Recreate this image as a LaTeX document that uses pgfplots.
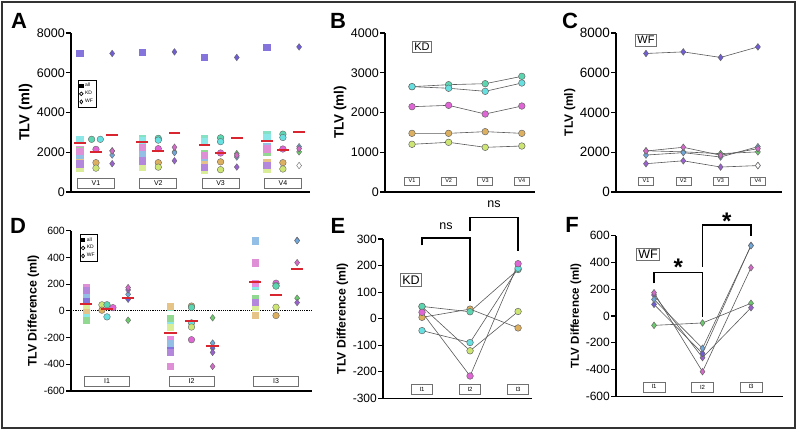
\documentclass[border=0pt]{standalone}
\usepackage{pgfplots}
\pgfplotsset{compat=1.18}
\usepackage{fontspec}
\setmainfont{Liberation Sans}

\definecolor{KDa}{HTML}{5CD6B0}
\definecolor{KDb}{HTML}{66E0E0}
\definecolor{KDc}{HTML}{E066D6}
\definecolor{KDd}{HTML}{DDB060}
\definecolor{KDe}{HTML}{CDE673}
\definecolor{WFa}{HTML}{6F5CD6}
\definecolor{WFb}{HTML}{6CCB6C}
\definecolor{WFc}{HTML}{6FA8DC}
\definecolor{WFd}{HTML}{D46AC8}
\definecolor{WFe}{HTML}{9A60D0}
\definecolor{meanred}{HTML}{D9252F}
\definecolor{boxgray}{HTML}{707070}

\pgfdeclareplotmark{meanbarA}{\pgfpathrectangle{\pgfpoint{-5.8pt}{-1pt}}{\pgfpoint{11.6pt}{2pt}}\pgfusepathqfill}
\pgfdeclareplotmark{meanbarD}{\pgfpathrectangle{\pgfpoint{-6.2pt}{-1pt}}{\pgfpoint{12.4pt}{2pt}}\pgfusepathqfill}

\pgfplotsset{
  panel/.style={
    scale only axis, anchor=south west,
    axis lines*=left,
    axis line style={line width=1.4pt, black},
    xtick=\empty,
    ytick style={line width=1.2pt, black},
    tick align=outside,
    major tick length=5pt,
    clip=false,
    /pgf/number format/1000 sep={},
    /pgf/number format/assume math mode=true,
    yticklabel style={inner sep=1pt},
  },
  allcls/.style={scatter, only marks, scatter src=explicit symbolic,
    mark size=3.1pt,
    scatter/classes={
      ka={mark=square*, color=KDa!75!white},
      kb={mark=square*, color=KDb!75!white},
      kc={mark=square*, color=KDc!75!white},
      kd={mark=square*, color=KDd!75!white},
      ke={mark=square*, color=KDe!75!white},
      wa={mark=square*, color=WFa!85!white},
      wb={mark=square*, color=WFb!75!white},
      wc={mark=square*, color=WFc!75!white},
      wd={mark=square*, color=WFd!75!white},
      we={mark=square*, color=WFe!75!white}}},
  ptcls/.style={scatter, only marks, scatter src=explicit symbolic,
    mark size=3.3pt,
    scatter/classes={
      ka={mark=*, fill=KDa, draw=black!60},
      kb={mark=*, fill=KDb, draw=black!60},
      kc={mark=*, fill=KDc, draw=black!60},
      kd={mark=*, fill=KDd, draw=black!60},
      ke={mark=*, fill=KDe, draw=black!60},
      wa={mark=diamond*, fill=WFa, draw=black!60},
      wb={mark=diamond*, fill=WFb, draw=black!60},
      wc={mark=diamond*, fill=WFc, draw=black!60},
      wd={mark=diamond*, fill=WFd, draw=black!60},
      we={mark=diamond*, fill=WFe, draw=black!60},
      wx={mark=diamond*, fill=white, draw=black!60}}},
  conn/.style={black!65, line width=0.6pt, mark size=3.3pt},
  cm/.style={mark options={fill=#1, draw=black!60, line width=0.5pt, solid}},
}
\tikzset{
  catbox/.style={draw=boxgray, fill=white, line width=0.6pt, inner sep=0pt, anchor=center},
  grpbox/.style={draw=boxgray, fill=white, line width=0.7pt, inner sep=2pt, anchor=center},
  letter/.style={font=\fontsize{22}{22}\selectfont\bfseries, inner sep=0pt, anchor=center},
}

\begin{document}
\begin{tikzpicture}
\useasboundingbox (0pt,0pt) rectangle (798pt,432pt);
\draw[line width=1.2pt, black!80] (2pt,4pt) rectangle (795pt,430pt);

\node[letter] at (19pt,411pt) {A};
\node[letter] at (338pt,411pt) {B};
\node[letter] at (570pt,411pt) {C};
\node[letter] at (18pt,206pt) {D};
\node[letter] at (338pt,206pt) {E};
\node[letter] at (572pt,207pt) {F};

% ---------------- Panel A ----------------
\begin{axis}[panel, at={(71pt,240pt)}, width=239pt, height=159pt,
  xmin=0.599, xmax=4.435, ymin=0, ymax=8000, ytick={0,2000,4000,6000,8000},
  yticklabel style={font=\fontsize{12.5}{12.5}\selectfont},
  ylabel={TLV (ml)}, ylabel style={font=\bfseries\fontsize{14.5}{14.5}\selectfont},
  legend style={at={(0.03,0.705)}, anchor=north west, font=\fontsize{5}{5}\selectfont,
    draw=black, line width=0.7pt, inner sep=1pt, row sep=-1pt, cells={anchor=west}},
  legend cell align=left]
\addlegendimage{only marks, mark=square*, black, mark size=1.6pt}
\addlegendentry{all}
\addlegendimage{only marks, mark=o, black, mark size=1.8pt}
\addlegendentry{KD}
\addlegendimage{only marks, mark=diamond, black, mark size=1.9pt}
\addlegendentry{WF}
\addplot[allcls] table[meta=c] {
x y c
0.74 2650 ka
0.74 2650 kb
0.74 2146 kc
0.74 1476 kd
0.74 1200 ke
0.74 6970 wa
0.74 2075 wb
0.74 1859 wc
0.74 2062 wd
0.74 1424 we
1.74 2700 ka
1.74 2610 kb
1.74 2180 kc
1.74 1476 kd
1.74 1250 ke
1.74 7050 wa
1.74 2020 wb
1.74 1980 wc
1.74 2250 wd
1.74 1570 we
2.74 2725 ka
2.74 2533 kb
2.74 1962 kc
2.74 1518 kd
2.74 1124 ke
2.74 6770 wa
2.74 1930 wb
2.74 1760 wc
2.74 1850 wd
2.74 1256 we
3.74 2910 ka
3.74 2742 kb
3.74 2163 kc
3.74 1476 kd
3.74 1157 ke
3.74 7300 wa
3.74 2020 wb
3.74 2280 wc
3.74 2180 wd
3.74 1330 we
};
\addplot[ptcls] table[meta=c] {
x y c
0.93 2650 ka
1.07 2650 kb
1 2146 kc
1 1476 kd
1 1200 ke
2 2700 ka
2 2610 kb
2 2180 kc
2 1476 kd
2 1250 ke
3 2725 ka
3 2533 kb
3 1962 kc
3 1518 kd
3 1124 ke
4 2910 ka
4 2742 kb
4 2163 kc
4 1476 kd
4 1157 ke
1.26 6970 wa
1.26 2075 wb
1.26 1859 wc
1.26 2062 wd
1.26 1424 we
2.26 7050 wa
2.26 2020 wb
2.26 1980 wc
2.26 2250 wd
2.26 1570 we
3.26 6770 wa
3.26 1930 wb
3.26 1760 wc
3.26 1850 wd
3.26 1256 we
4.26 7300 wa
4.26 2020 wb
4.26 2280 wc
4.26 2180 wd
4.26 1330 wx
};
% group means (all, KD, WF)
\addplot[only marks, mark=meanbarA, color=meanred, fill=meanred, mark options={fill=meanred, draw=none}] coordinates {
(0.74,2451) (1.74,2509) (2.74,2343) (3.74,2556)
(1,2024) (2,2043) (3,1972) (4,2090)
(1.26,2878) (2.26,2974) (3.26,2713) (4.26,3022)};
\foreach \g/\t in {1/V1,2/V2,3/V3,4/V4}{
  \edef\tmp{\noexpand\node[catbox, minimum width=37pt, minimum height=10pt, font=\noexpand\fontsize{7}{7}\noexpand\selectfont] at (axis cs:\g,452) {\t};}\tmp
}
\end{axis}

% ---------------- Panel B ----------------
\begin{axis}[panel, at={(385pt,240pt)}, width=150pt, height=159pt,
  xmin=0.262, xmax=4.36, ymin=0, ymax=4000, ytick={0,1000,2000,3000,4000},
  yticklabel style={font=\fontsize{12.5}{12.5}\selectfont},
  ylabel={TLV (ml)}, ylabel style={font=\bfseries\fontsize{13.5}{13.5}\selectfont}]
\addplot[conn, mark=*, cm=KDa] coordinates {(1,2650)(2,2700)(3,2725)(4,2910)};
\addplot[conn, mark=*, cm=KDb] coordinates {(1,2650)(2,2610)(3,2533)(4,2742)};
\addplot[conn, mark=*, cm=KDc] coordinates {(1,2146)(2,2180)(3,1962)(4,2163)};
\addplot[conn, mark=*, cm=KDd] coordinates {(1,1476)(2,1476)(3,1518)(4,1476)};
\addplot[conn, mark=*, cm=KDe] coordinates {(1,1200)(2,1250)(3,1124)(4,1157)};
\foreach \g/\t in {1/V1,2/V2,3/V3,4/V4}{
  \edef\tmp{\noexpand\node[catbox, minimum width=15pt, minimum height=8pt, font=\noexpand\fontsize{5.5}{5.5}\noexpand\selectfont] at (axis cs:\g,277) {\t};}\tmp
}
\node[grpbox, font=\fontsize{11}{11}\selectfont] at (axis cs:1.27,3648) {KD};
\end{axis}

% ---------------- Panel C ----------------
\begin{axis}[panel, at={(616pt,240pt)}, width=166pt, height=159pt,
  xmin=0.196, xmax=4.646, ymin=0, ymax=8000, ytick={0,2000,4000,6000,8000},
  yticklabel style={font=\fontsize{13.5}{13.5}\selectfont},
  ylabel={TLV (ml)}, ylabel style={font=\bfseries\fontsize{12}{12}\selectfont}]
\addplot[conn, mark=diamond*, cm=WFa] coordinates {(1,6970)(2,7050)(3,6770)(4,7300)};
\addplot[conn, mark=diamond*, cm=WFb] coordinates {(1,2075)(2,2020)(3,1930)(4,2020)};
\addplot[conn, mark=diamond*, cm=WFc] coordinates {(1,1859)(2,1980)(3,1760)(4,2280)};
\addplot[conn, mark=diamond*, cm=WFd] coordinates {(1,2062)(2,2250)(3,1850)(4,2180)};
\addplot[conn, mark=diamond*, cm=WFe] coordinates {(1,1424)(2,1570)(3,1256)(4,1330)};
\addplot[only marks, mark=diamond*, mark size=3.3pt, mark options={fill=white, draw=black!60, line width=0.5pt}] coordinates {(4,1330)};
\foreach \g/\t in {1/V1,2/V2,3/V3,4/V4}{
  \edef\tmp{\noexpand\node[catbox, minimum width=15pt, minimum height=8pt, font=\noexpand\fontsize{5.5}{5.5}\noexpand\selectfont] at (axis cs:\g,553) {\t};}\tmp
}
\node[grpbox, font=\fontsize{11}{11}\selectfont] at (axis cs:1.0,7638) {WF};
\end{axis}

% ---------------- Panel D ----------------
\begin{axis}[panel, at={(71pt,41pt)}, width=241pt, height=160.3pt,
  xmin=0.574, xmax=3.426, ymin=-600, ymax=600, ytick={-600,-400,...,600},
  yticklabel style={font=\fontsize{10.5}{10.5}\selectfont},
  ylabel={TLV Difference (ml)}, ylabel style={font=\bfseries\fontsize{12.3}{12.3}\selectfont},
  legend style={at={(0.037,0.979)}, anchor=north west, font=\fontsize{5}{5}\selectfont,
    draw=black, line width=0.7pt, inner sep=1pt, row sep=-1pt, cells={anchor=west}},
  legend cell align=left]
\addlegendimage{only marks, mark=square*, black, mark size=1.6pt}
\addlegendentry{all}
\addlegendimage{only marks, mark=o, black, mark size=1.8pt}
\addlegendentry{KD}
\addlegendimage{only marks, mark=diamond, black, mark size=1.9pt}
\addlegendentry{WF}
\draw[line width=1.1pt, dash pattern=on 1.1pt off 1.1pt] (axis cs:0.574,0) -- (axis cs:3.426,0);
\addplot[allcls] table[meta=c] {
x y c
0.75 46 ka
0.75 -45 kb
0.75 24 kc
0.75 5 kd
0.75 45 ke
0.75 87 wa
0.75 -70 wb
0.75 124 wc
0.75 174 wd
0.75 157 we
1.75 26 ka
1.75 -90 kb
1.75 -216 kc
1.75 36 kd
1.75 -121 ke
1.75 -280 wa
1.75 -52 wb
1.75 -241 wc
1.75 -416 wd
1.75 -311 we
2.75 185 ka
2.75 190 kb
2.75 207 kc
2.75 -35 kd
2.75 27 ke
2.75 528 wa
2.75 95 wb
2.75 525 wc
2.75 361 wd
2.75 62 we
};
\addplot[ptcls] table[meta=c] {
x y c
0.94 45 ke
1.0 46 ka
1.07 24 kc
0.94 5 kd
1.0 -45 kb
2 36 kd
2 26 ka
2 -90 kb
2 -121 ke
2 -216 kc
3 207 kc
3 190 kb
3 185 ka
3 27 ke
3 -35 kd
1.25 87 wa
1.25 -70 wb
1.25 124 wc
1.25 157 we
1.25 174 wd
2.25 -52 wb
2.25 -241 wc
2.25 -280 wa
2.25 -311 we
2.25 -416 wd
3.25 528 wa
3.25 525 wc
3.25 361 wd
3.25 95 wb
3.25 62 we
};
\addplot[only marks, mark=meanbarD, color=meanred, mark options={fill=meanred, draw=none}] coordinates {
(0.75,55) (1.75,-166) (2.75,214)
(1,15) (2,-73) (3,115)
(1.25,94) (2.25,-260) (3.25,314)};
\foreach \g/\t in {1/I1,2/I2,3/I3}{
  \edef\tmp{\noexpand\node[catbox, minimum width=45pt, minimum height=10pt, font=\noexpand\fontsize{7}{7}\noexpand\selectfont] at (axis cs:\g,-529) {\t};}\tmp
}
\end{axis}

% ---------------- Panel E ----------------
\begin{axis}[panel, at={(383pt,33.7pt)}, width=149pt, height=159.3pt,
  xmin=0.1875, xmax=3.29, ymin=-300, ymax=300, ytick={-300,-200,...,300},
  yticklabel style={font=\fontsize{12}{12}\selectfont},
  ylabel={TLV Difference (ml)}, ylabel style={font=\bfseries\fontsize{12.2}{12.2}\selectfont}]
\draw[line width=1.2pt] (axis cs:1,276) -- (axis cs:1,304) -- (axis cs:2,304) -- (axis cs:2,66);
\draw[line width=1.2pt] (axis cs:2,330) -- (axis cs:2,382) -- (axis cs:3,382) -- (axis cs:3,254);
\node[font=\fontsize{12.5}{12.5}\selectfont, inner sep=0pt] at (axis cs:1.5,350) {ns};
\node[font=\fontsize{12.5}{12.5}\selectfont, inner sep=0pt] at (axis cs:2.5,432) {ns};
\addplot[conn, mark=*, cm=KDd] coordinates {(1,5)(2,36)(3,-35)};
\addplot[conn, mark=*, cm=KDe] coordinates {(1,45)(2,-121)(3,27)};
\addplot[conn, mark=*, cm=KDa] coordinates {(1,46)(2,26)(3,185)};
\addplot[conn, mark=*, cm=KDb] coordinates {(1,-45)(2,-90)(3,190)};
\addplot[conn, mark=*, cm=KDc] coordinates {(1,24)(2,-216)(3,207)};
\foreach \g/\t in {1/I1,2/I2,3/I3}{
  \edef\tmp{\noexpand\node[catbox, minimum width=21pt, minimum height=10pt, font=\noexpand\fontsize{6}{6}\noexpand\selectfont] at (axis cs:\g,-265) {\t};}\tmp
}
\node[grpbox, font=\fontsize{12.5}{12.5}\selectfont] at (axis cs:0.77,146) {KD};
\end{axis}

% ---------------- Panel F ----------------
\begin{axis}[panel, at={(616pt,35.7pt)}, width=167pt, height=160.6pt,
  xmin=0.216, xmax=3.66, ymin=-600, ymax=600, ytick={-600,-400,...,600},
  yticklabel style={font=\fontsize{12}{12}\selectfont},
  ylabel={TLV Difference (ml)}, ylabel style={font=\bfseries\fontsize{11.5}{11.5}\selectfont}]
\draw[line width=1.2pt] (axis cs:1,244) -- (axis cs:1,326) -- (axis cs:2,326) -- (axis cs:2,-5);
\draw[line width=1.2pt] (axis cs:2,368) -- (axis cs:2,680) -- (axis cs:3,680) -- (axis cs:3,600);
\node[font=\fontsize{24}{24}\selectfont\bfseries, inner sep=0pt, anchor=base] at (axis cs:1.5,306) {*};
\node[font=\fontsize{24}{24}\selectfont\bfseries, inner sep=0pt, anchor=base] at (axis cs:2.5,650) {*};
\addplot[conn, mark=diamond*, cm=WFb] coordinates {(1,-70)(2,-52)(3,95)};
\addplot[conn, mark=diamond*, cm=WFe] coordinates {(1,157)(2,-311)(3,62)};
\addplot[conn, mark=diamond*, cm=WFd] coordinates {(1,174)(2,-416)(3,361)};
\addplot[conn, mark=diamond*, cm=WFa] coordinates {(1,87)(2,-280)(3,528)};
\addplot[conn, mark=diamond*, cm=WFc] coordinates {(1,124)(2,-241)(3,525)};
\foreach \g/\t in {1/I1,2/I2,3/I3}{
  \edef\tmp{\noexpand\node[catbox, minimum width=22pt, minimum height=10pt, font=\noexpand\fontsize{6}{6}\noexpand\selectfont] at (axis cs:\g,-530) {\t};}\tmp
}
\node[grpbox, font=\fontsize{12.5}{12.5}\selectfont] at (axis cs:0.876,460) {WF};
\end{axis}
\end{tikzpicture}
\end{document}
